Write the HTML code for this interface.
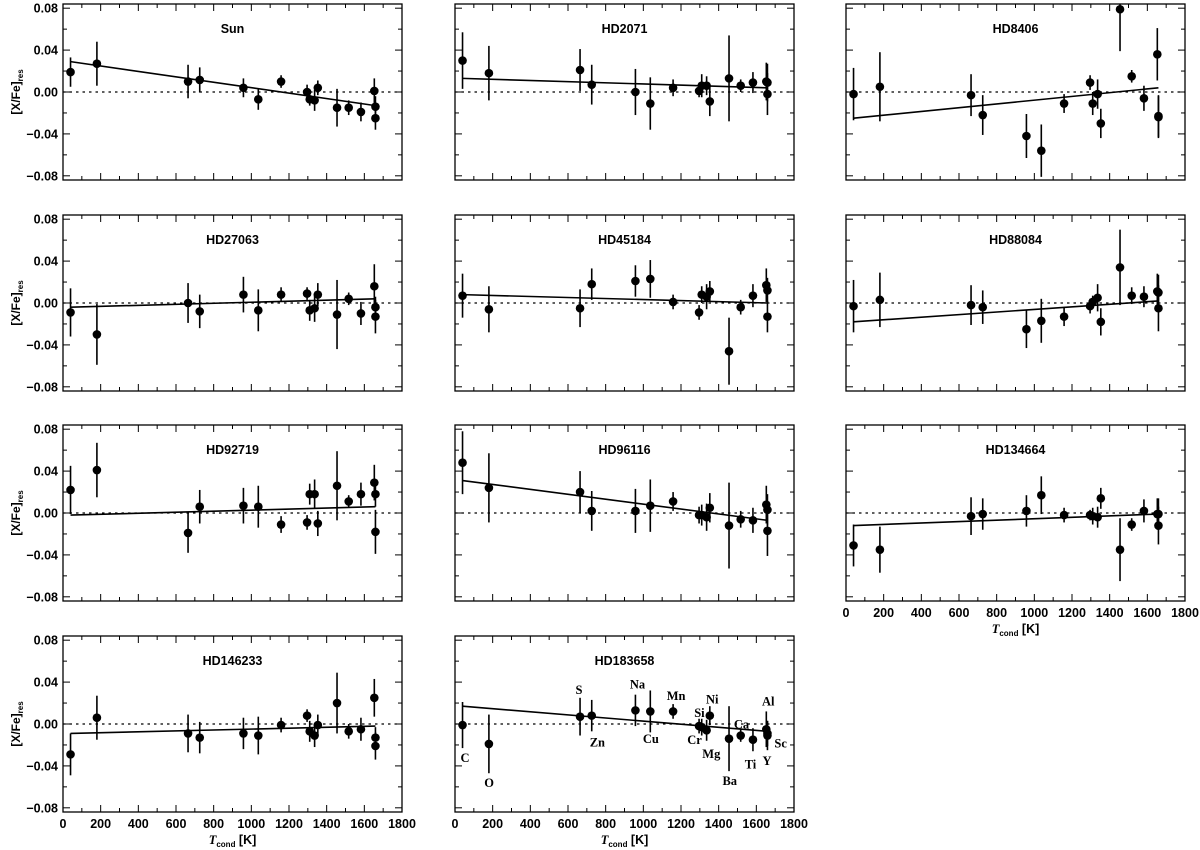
<!DOCTYPE html>
<html><head><meta charset="utf-8">
<style>
html,body{margin:0;padding:0;background:#fff;}
svg{display:block;font-family:"Liberation Sans",Arial,sans-serif;font-weight:bold;}
</style></head>
<body>
<svg id="chart" width="1200" height="850" viewBox="0 0 1200 850" xmlns="http://www.w3.org/2000/svg"></svg>
<script>
const tcond = [40,180,664,726,958,1037,1158,1296,1310,1336,1353,1455,1517,1582,1653,1659,1659];
const elements = ["C","O","S","Zn","Na","Cu","Mn","Cr","Si","Mg","Ni","Ba","Ca","Ti","Al","Sc","Y"];
const starNames = ["Sun","HD2071","HD8406","HD27063","HD45184","HD88084","HD92719","HD96116","HD134664","HD146233","HD183658"];
const valSun = [0.019,0.027,0.010,0.0115,0.004,-0.007,0.010,0.000,-0.007,-0.008,0.004,-0.015,-0.015,-0.019,0.001,-0.014,-0.025];
const errSun = [0.014,0.021,0.016,0.012,0.009,0.010,0.006,0.007,0.006,0.010,0.007,0.018,0.007,0.009,0.012,0.010,0.011];
const valHD2071 = [0.030,0.018,0.021,0.007,0.000,-0.011,0.004,0.001,0.006,0.006,-0.009,0.013,0.006,0.009,0.010,0.009,-0.002];
const errHD2071 = [0.027,0.026,0.020,0.019,0.022,0.025,0.008,0.006,0.011,0.009,0.014,0.041,0.006,0.010,0.018,0.018,0.020];
const valHD8406 = [-0.002,0.005,-0.003,-0.022,-0.042,-0.056,-0.011,0.009,-0.011,-0.002,-0.030,0.079,0.015,-0.006,0.036,-0.023,-0.024];
const errHD8406 = [0.025,0.033,0.020,0.019,0.021,0.025,0.009,0.007,0.011,0.014,0.014,0.040,0.006,0.012,0.025,0.020,0.020];
const valHD27063 = [-0.009,-0.030,0.000,-0.008,0.008,-0.007,0.008,0.009,-0.007,-0.005,0.008,-0.011,0.004,-0.010,0.016,-0.004,-0.013];
const errHD27063 = [0.023,0.029,0.019,0.016,0.017,0.020,0.007,0.006,0.010,0.013,0.011,0.033,0.006,0.011,0.021,0.010,0.016];
const valHD45184 = [0.007,-0.006,-0.005,0.018,0.021,0.023,0.001,-0.009,0.008,0.006,0.011,-0.046,-0.004,0.007,0.017,0.012,-0.013];
const errHD45184 = [0.021,0.022,0.018,0.015,0.015,0.018,0.007,0.007,0.008,0.012,0.010,0.032,0.007,0.011,0.016,0.012,0.015];
const valHD88084 = [-0.003,0.003,-0.002,-0.004,-0.025,-0.017,-0.013,-0.003,0.001,0.005,-0.018,0.034,0.007,0.006,0.011,0.010,-0.005];
const errHD88084 = [0.025,0.026,0.019,0.016,0.018,0.021,0.009,0.007,0.006,0.013,0.013,0.036,0.008,0.010,0.017,0.017,0.022];
const valHD92719 = [0.022,0.041,-0.019,0.006,0.007,0.006,-0.011,-0.009,0.018,0.018,-0.010,0.026,0.011,0.018,0.029,0.018,-0.018];
const errHD92719 = [0.023,0.026,0.019,0.016,0.017,0.020,0.008,0.007,0.010,0.014,0.012,0.033,0.006,0.011,0.017,0.012,0.021];
const valHD96116 = [0.048,0.024,0.020,0.002,0.002,0.007,0.011,-0.002,-0.002,-0.004,0.005,-0.012,-0.006,-0.007,0.008,0.003,-0.017];
const errHD96116 = [0.030,0.033,0.020,0.019,0.021,0.025,0.009,0.008,0.010,0.013,0.014,0.041,0.008,0.012,0.018,0.015,0.024];
const valHD134664 = [-0.031,-0.035,-0.003,-0.001,0.002,0.017,-0.002,-0.002,-0.003,-0.004,0.014,-0.035,-0.011,0.002,-0.001,-0.001,-0.012];
const errHD134664 = [0.020,0.022,0.018,0.015,0.015,0.018,0.007,0.005,0.008,0.010,0.010,0.030,0.006,0.011,0.015,0.015,0.018];
const valHD146233 = [-0.029,0.006,-0.009,-0.013,-0.009,-0.011,-0.001,0.008,-0.007,-0.011,-0.001,0.020,-0.007,-0.005,0.025,-0.013,-0.021];
const errHD146233 = [0.020,0.021,0.018,0.015,0.015,0.018,0.007,0.006,0.010,0.011,0.010,0.029,0.007,0.011,0.018,0.010,0.013];
const valHD183658 = [-0.001,-0.019,0.007,0.008,0.013,0.012,0.012,-0.002,-0.003,-0.006,0.008,-0.014,-0.011,-0.015,-0.005,-0.009,-0.011];
const errHD183658 = [0.022,0.028,0.018,0.015,0.015,0.020,0.007,0.007,0.008,0.010,0.009,0.031,0.006,0.011,0.017,0.012,0.014];
const fitStart = [0.029,0.013,-0.025,-0.004,0.008,-0.018,-0.002,0.031,-0.012,-0.009,0.017];
const fitEnd = [-0.013,0.004,0.004,0.004,0.000,0.002,0.006,-0.007,-0.001,-0.002,-0.007];
const xTicks = [0,200,400,600,800,1000,1200,1400,1600,1800];
const yTicks = ["0.08","0.04","0.00","-0.04","-0.08"];
const labelT = [53,181,658,756,969,1040,1174,1272,1298,1366,1361,1459,1521,1569,1663,1729,1657];
const labelV = [-0.032,-0.056,0.033,-0.017,0.038,-0.014,0.027,-0.015,0.011,0.024,-0.028,-0.054,0.0,-0.038,0.022,-0.018,-0.035];
const labelEl = ["C","O","S","Zn","Na","Cu","Mn","Cr","Si","Ni","Mg","Ba","Ca","Ti","Al","Sc","Y"];

const allVals = [valSun,valHD2071,valHD8406,valHD27063,valHD45184,valHD88084,valHD92719,valHD96116,valHD134664,valHD146233,valHD183658];
const allErrs = [errSun,errHD2071,errHD8406,errHD27063,errHD45184,errHD88084,errHD92719,errHD96116,errHD134664,errHD146233,errHD183658];

const svg = document.getElementById('chart');
const NS = "http://www.w3.org/2000/svg";
const colLeft = [63,455,846], rowTop = [4,215,425,636], PW = 339, PH = 176;
const YMAX = 0.084, YMIN = -0.084, XMAX = 1800;
function mk(tag, attrs, parent){const e=document.createElementNS(NS,tag);for(const k in attrs)e.setAttribute(k,attrs[k]);(parent||svg).appendChild(e);return e;}

starNames.forEach((name, i) => {
  const col = i % 3, row = Math.floor(i / 3);
  const L = colLeft[col], T = rowTop[row];
  const xs = t => L + t / XMAX * PW;
  const ys = v => T + (YMAX - v) / (YMAX - YMIN) * PH;
  const g = mk('g', {});
  
  
  const defsId = 'clip' + i;
  const cp = mk('clipPath', {id: defsId}, g);
  mk('rect', {x: L, y: T, width: PW, height: PH}, cp);
  const frame = mk('rect', {x: L, y: T, width: PW, height: PH, fill: 'none', stroke: '#000', 'stroke-width': 1.3}, g);
  
  
  // ticks
  for (let t = 0; t <= 1800; t += 100) {
    const len = (t % 200 === 0) ? 7 : 4;
    mk('line', {x1: xs(t), x2: xs(t), y1: T + PH, y2: T + PH - len, stroke: '#000', 'stroke-width': 1}, g);
    mk('line', {x1: xs(t), x2: xs(t), y1: T, y2: T + len, stroke: '#000', 'stroke-width': 1}, g);
  }
  for (let k = -4; k <= 4; k++) {
    const v = k * 0.02, len = (k % 2 === 0) ? 7 : 4;
    mk('line', {x1: L, x2: L + len, y1: ys(v), y2: ys(v), stroke: '#000', 'stroke-width': 1}, g);
    mk('line', {x1: L + PW, x2: L + PW - len, y1: ys(v), y2: ys(v), stroke: '#000', 'stroke-width': 1}, g);
  }
  const zl = mk('line', {x1: L, x2: L + PW, y1: ys(0), y2: ys(0), stroke: '#000', 'stroke-width': 1.2, 'stroke-dasharray': '2.5,4'}, g);
  
  
  const fl = mk('line', {x1: xs(tcond[0]), x2: xs(tcond[tcond.length-1]), y1: ys(fitStart[i]), y2: ys(fitEnd[i]), stroke: '#000', 'stroke-width': 1.6}, g);
  
  
  const pg = mk('g', {'clip-path': 'url(#' + defsId + ')'}, g);
  allVals[i].forEach((v, j) => {
    const e = allErrs[i][j];
    const eb = mk('line', {x1: xs(tcond[j]), x2: xs(tcond[j]), y1: ys(v - e), y2: ys(v + e), stroke: '#000', 'stroke-width': 1.6}, pg);
    
    
    const c = mk('circle', {cx: xs(tcond[j]), cy: ys(v), r: 4.3, fill: '#000'}, pg);
    
    
  });
  const tt = mk('text', {x: L + PW / 2, y: T + 29, 'text-anchor': 'middle', 'font-size': 12.5}, g);
  tt.textContent = name;
  
  
  if (col === 0) {
    yTicks.forEach(s => {
      const yl = mk('text', {x: L - 5, y: ys(parseFloat(s)) + 4.5, 'text-anchor': 'end', 'font-size': 12.5}, g);
      yl.textContent = s.replace('-', '\u2212');
      
      
    });
    const yt = mk('text', {transform: 'translate(' + 20 + ',' + (T + PH / 2) + ') rotate(-90)', 'text-anchor': 'middle', 'font-size': 12}, g);
    yt.innerHTML = '[X/Fe]<tspan font-size="8" dy="3">res</tspan>';
    
    
  }
  const bottom = (row === 3) || (i === 8);
  if (bottom) {
    xTicks.forEach(t => {
      const xl = mk('text', {x: xs(t), y: T + PH + 16, 'text-anchor': 'middle', 'font-size': 12.5}, g);
      xl.textContent = t;
      
      
    });
    const xt = mk('text', {x: L + PW / 2, y: T + PH + 32, 'text-anchor': 'middle', 'font-size': 12.5}, g);
    xt.innerHTML = '<tspan font-style="italic" font-family="Liberation Serif, serif">T</tspan><tspan font-size="8" dy="3">cond</tspan><tspan dy="-3"> [K]</tspan>';
    
    
  }
  if (i === 10) {
    labelEl.forEach((el, j) => {
      const lt = mk('text', {x: xs(labelT[j]), y: ys(labelV[j]) + 4.5, 'text-anchor': 'middle', 'font-size': 12.5, 'font-family': 'Liberation Serif, serif'}, g);
      lt.textContent = el;
      
      
    });
  }
});
</script>
</body></html>
